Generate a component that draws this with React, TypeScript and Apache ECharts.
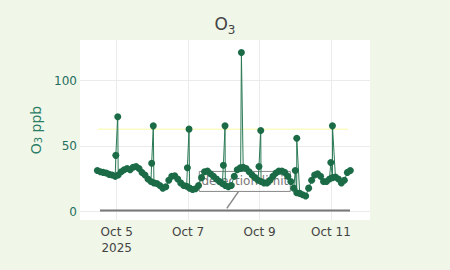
import React, { useEffect, useRef } from "react";
import * as echarts from "echarts";

// Hours relative to Oct 5 2025 00:00
const baseHours = [
  -13, -11, -9, -7, -5, -3, -1, 1, 3, 5, 7, 9, 11, 13, 15, 17, 19, 21, 23, 25,
  27, 29, 31, 33, 35, 37, 39, 41, 43, 45, 47, 49, 51, 53, 55, 57, 59, 61, 63, 65,
  67, 69, 71, 73, 75, 77, 79, 81, 83, 85, 87, 89, 91, 93, 95, 97, 99, 101, 103, 105,
  107, 109, 111, 113, 115, 117, 119, 121, 123, 125, 127, 129, 131, 133, 135, 137, 139, 141, 143, 145,
  147, 149, 151, 153, 155, 157,
];
const baseValues = [
  31.5, 30.5, 30, 29.5, 28.5, 28, 27, 28, 30.5, 32, 33, 32, 34, 34.5, 33, 30, 28, 25, 23, 22,
  21.5, 20, 18, 19, 24, 27, 27.5, 25, 22, 20, 19.5, 18, 17, 17.5, 20, 26, 30.5, 31, 29, 27,
  25, 23, 21.5, 20, 19, 20, 27, 32, 33.5, 34, 33, 30.5, 28, 26, 24, 23, 22, 22, 24, 27,
  29.5, 31, 31, 30, 27, 23, 18, 14.5, 14, 13, 12, 18, 24, 28, 29, 27, 23, 23, 25, 26,
  26.5, 25, 22, 24, 30, 31.5,
];
const spikeHours = [-0.6, 0.7, 23.5, 24.6, 47.5, 48.6, 71.7, 72.8, 83.3, 83.8, 95.6, 96.8, 120, 121, 143.9, 145];
const spikeValues = [43, 72.5, 37, 65.5, 33.5, 63, 35.5, 65.5, 33, 121.5, 34.5, 62, 31.5, 56, 37.5, 65.5];

const standardLevel = 63;
const standardHours = [-12.6, 155.4];
const detectionLimit = 1;
const detectionHours = [-11.2, 156.8];
const annotationHour = 74;
const annotationText = "detection limit";

const xTickDays = [5, 7, 9, 11];
const yTicks = [0, 50, 100];
const firstDay = 5;

export default function App() {
  const ref = useRef<HTMLDivElement>(null);
  useEffect(() => {
    document.body.style.margin = "0";
    document.body.style.background = "#f0f6e8";
    const chart = echarts.init(ref.current!, undefined, { renderer: "svg" });
    const pts: [number, number][] = [];
    baseHours.forEach((h, i) => pts.push([h, baseValues[i]]));
    spikeHours.forEach((h, i) => pts.push([h, spikeValues[i]]));
    pts.sort((a, b) => a[0] - b[0]);
    const font = "DejaVu Sans";
    const xTicks = xTickDays.map((d) => (d - firstDay) * 24);
    chart.setOption({
      animation: false,
      backgroundColor: "#f0f6e8",
      title: {
        text: "{o|O}{s|3}",
        left: "center",
        top: 5,
        textStyle: {
          fontWeight: "normal",
          rich: {
            o: { fontSize: 17, fontFamily: font, fontWeight: "normal", color: "#444", lineHeight: 22, verticalAlign: "bottom" },
            s: { fontSize: 12, fontFamily: font, fontWeight: "normal", color: "#444", lineHeight: 22, verticalAlign: "bottom", padding: [0, 0, -4, 0] },
          },
        },
      },
      grid: { left: 80, right: 80, top: 40, bottom: 50, show: true, backgroundColor: "#fff", borderWidth: 0 },
      xAxis: {
        type: "value",
        min: -1.028 * 24,
        max: 7.093 * 24,
        axisLine: { show: false },
        axisTick: { show: false, customValues: xTicks },
        splitLine: { show: true, lineStyle: { color: "#ebebeb", width: 1 } },
        axisLabel: {
          customValues: xTicks,
          color: "#444",
          fontFamily: font,
          fontSize: 12,
          margin: 4,
          lineHeight: 16,
          formatter: (v: number) => {
            const day = Math.round(firstDay + v / 24);
            const s = "Oct " + day;
            return day === xTickDays[0] ? s + "\n2025" : s;
          },
        },
      },
      yAxis: {
        type: "value",
        min: -6.3,
        max: 131,
        name: "{o|O}{s|3}{o| ppb}",
        nameLocation: "middle",
        nameGap: 36,
        nameTextStyle: {
          rich: {
            o: { fontSize: 14, fontFamily: font, color: "#2a7d66" },
            s: { fontSize: 10, fontFamily: font, color: "#2a7d66", padding: [0, 0, -4, 0] },
          },
        },
        axisLine: { show: false },
        axisTick: { show: false, customValues: yTicks },
        splitLine: { show: true, lineStyle: { color: "#ebebeb", width: 1 } },
        axisLabel: { customValues: yTicks, color: "#1f6e5e", fontFamily: font, fontSize: 12, margin: 3 },
      },
      series: [
        {
          type: "line",
          data: standardHours.map((h) => [h, standardLevel]),
          showSymbol: false,
          lineStyle: { color: "#fbfbc4", width: 1.5 },
          silent: true,
        },
        {
          type: "line",
          data: detectionHours.map((h) => [h, detectionLimit]),
          showSymbol: false,
          lineStyle: { color: "#777", width: 2 },
          silent: true,
        },
        {
          type: "line",
          data: pts,
          symbol: "circle",
          symbolSize: 7,
          showAllSymbol: true,
          itemStyle: { color: "#1b6b47" },
          lineStyle: { color: "#2a7a55", width: 1 },
        },
      ],
    });
    const tip = chart.convertToPixel({ gridIndex: 0 }, [annotationHour, detectionLimit]) as number[];
    const cx = tip[0] + 18;
    const cy = tip[1] - 29;
    const w = 91;
    const hgt = 20;
    const t = hgt / 2 / Math.abs(tip[1] - cy);
    const sx = cx + (tip[0] - cx) * t;
    const sy = cy + (tip[1] - cy) * t;
    chart.setOption({
      graphic: [
        { type: "line", shape: { x1: sx, y1: sy, x2: tip[0], y2: tip[1] - 2 }, style: { stroke: "#888", lineWidth: 1.5 } },
        { type: "rect", shape: { x: cx - w / 2, y: cy - hgt / 2, width: w, height: hgt }, style: { fill: "none", stroke: "#888", lineWidth: 1 } },
        {
          type: "text",
          x: cx,
          y: cy,
          style: { text: annotationText, align: "center", verticalAlign: "middle", fill: "#777", font: "12px DejaVu Sans" },
        },
      ],
    });
    return () => chart.dispose();
  }, []);
  return <div ref={ref} style={{ width: 450, height: 270 }} />;
}
